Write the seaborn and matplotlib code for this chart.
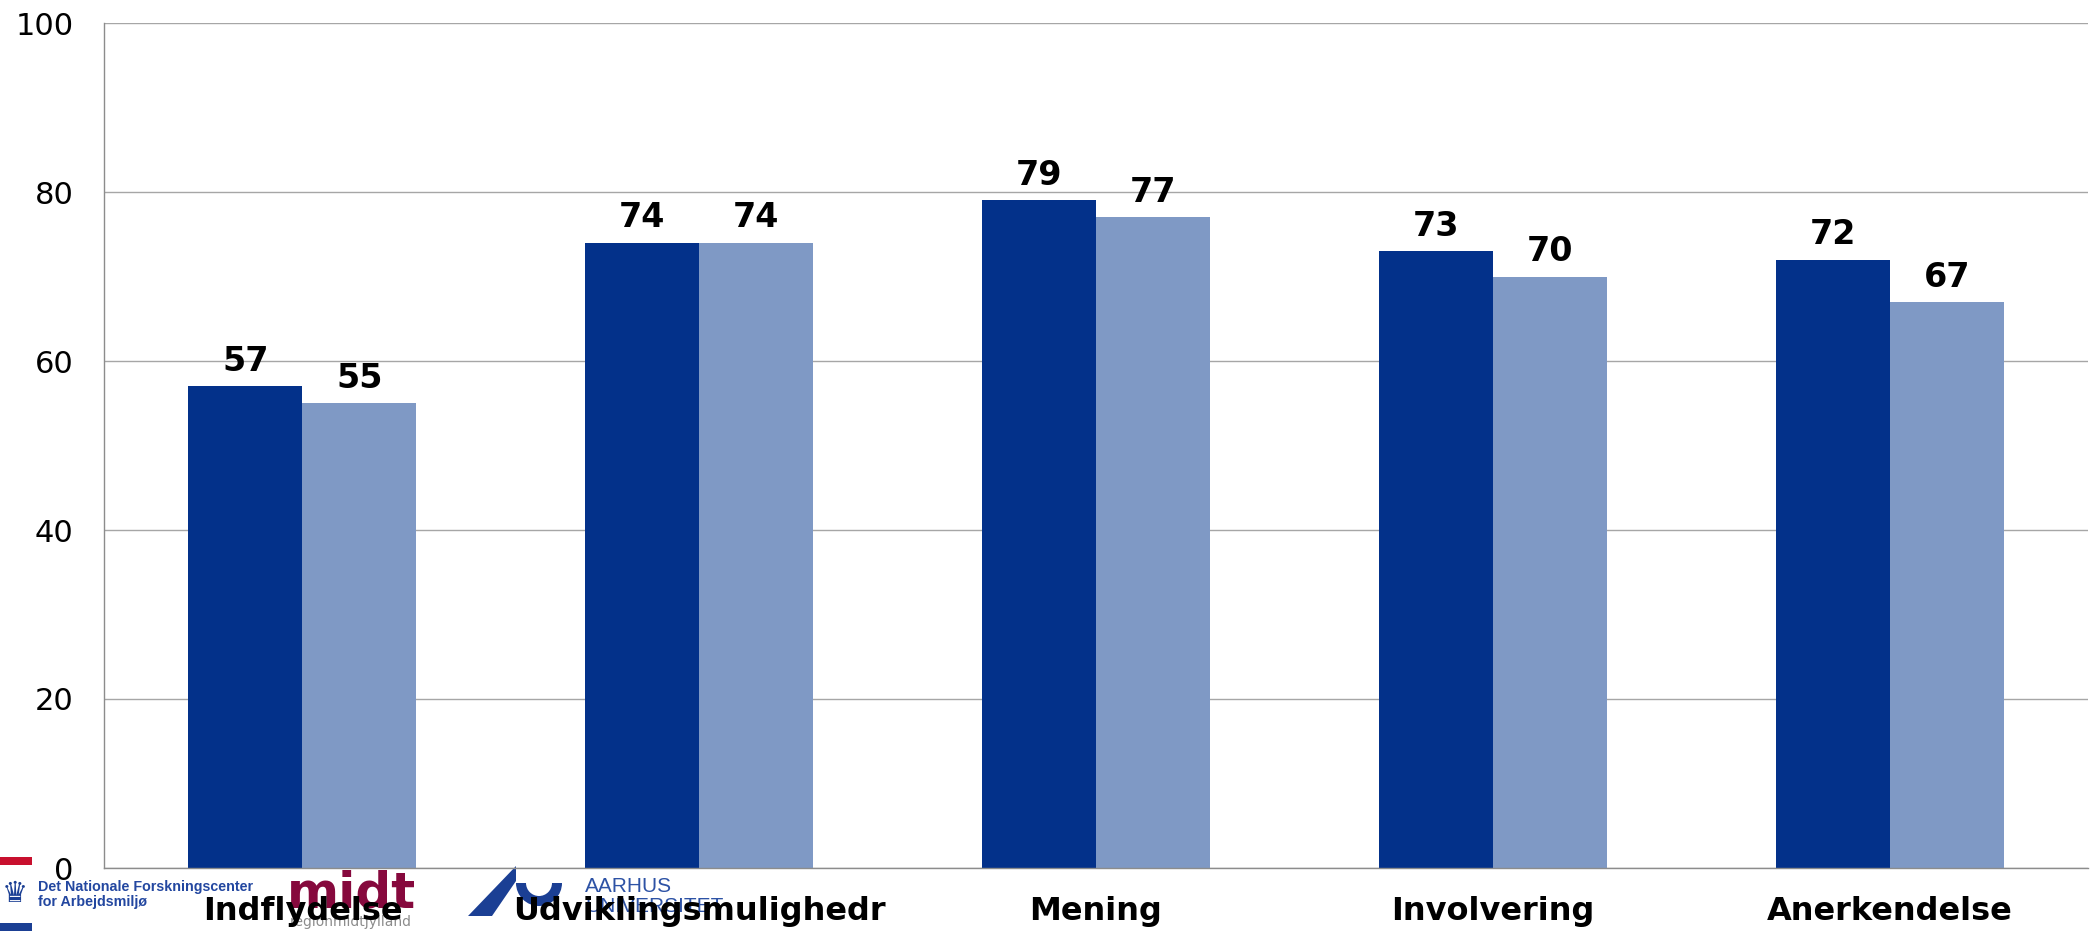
import pandas as pd
import matplotlib.pyplot as plt
import seaborn as sns
from matplotlib.patches import Rectangle, Polygon, Wedge

categories = ["Indflydelse", "Udviklingsmulighedr", "Mening", "Involvering", "Anerkendelse"]
series_names = ["Serie 1", "Serie 2"]
dark_values = [57, 74, 79, 73, 72]
light_values = [55, 74, 77, 70, 67]
y_ticks = [0, 20, 40, 60, 80, 100]
colors = ["#03318A", "#7F99C5"]

df = pd.DataFrame({
    "Kategori": categories * 2,
    "Serie": [series_names[0]] * len(categories) + [series_names[1]] * len(categories),
    "Score": dark_values + light_values,
})

sns.set_theme(style="white")
plt.rcParams['font.family'] = ['DejaVu Sans']
plt.rcParams['text.color'] = 'black'
plt.rcParams['xtick.color'] = 'black'
plt.rcParams['ytick.color'] = 'black'

W, H = 2093, 934
fig = plt.figure(figsize=(W / 100, H / 100), dpi=100)

# logos along the bottom edge, drawn in pixel coordinates under the chart
lax = fig.add_axes([0, 0, 1, 1], zorder=-1)
lax.set_xlim(0, W)
lax.set_ylim(H, 0)
lax.axis('off')
lax.add_patch(Rectangle((0, 857), 32, 8, color="#C8102E", lw=0))
lax.add_patch(Rectangle((0, 923), 32, 8, color="#1B3F94", lw=0))
lax.text(15, 894, "\u265b", color="#1B3F94", fontsize=21, ha='center', va='center')
lax.text(38, 880, "Det Nationale Forskningscenter\nfor Arbejdsmiljø", color="#2347A0",
         fontsize=10.3, fontweight='bold', family='Liberation Sans', va='top', linespacing=1.05)
lax.text(287, 907, "midt", color="#86093D", fontsize=36, fontweight='bold', va='baseline')
lax.text(290, 926, "regionmidtjylland", color="#8C8C8C", fontsize=10, va='baseline')
lax.add_patch(Polygon([(468, 916), (492, 916), (516, 881), (516, 866)], color="#1B3F94", lw=0))
lax.add_patch(Wedge((539, 883), 23, 0, 180, width=10, color="#1B3F94", lw=0))
lax.text(585, 892, "AARHUS", color="#2D52A5", fontsize=15, family='Liberation Sans', va='baseline')
lax.text(585, 912, "UNIVERSITET", color="#2D52A5", fontsize=15, family='Liberation Sans', va='baseline')

ax = fig.add_axes([104 / W, 1 - 868 / H, (2088 - 104) / W, (868 - 23) / H])
ax.patch.set_alpha(0)

sns.barplot(data=df, x="Kategori", y="Score", hue="Serie", palette=colors,
            width=0.575, saturation=1, errorbar=None, legend=False, linewidth=0, ax=ax)

for c in ax.containers:
    ax.bar_label(c, fmt='%d', padding=6, fontsize=24, fontweight='bold', color='black')

ax.set_ylim(0, 100)
ax.set_xlim(-0.5, 4.5)
ax.set_yticks(y_ticks)
ax.yaxis.grid(True, color='#A6A6A6', lw=1)
ax.set_axisbelow(True)
for side in ['top', 'right']:
    ax.spines[side].set_visible(False)
for side in ['left', 'bottom']:
    ax.spines[side].set_color('#8C8C8C')
    ax.spines[side].set_linewidth(1)

ax.tick_params(axis='y', length=0, labelsize=22, pad=22, labelcolor='black')
ax.tick_params(axis='x', length=0, labelsize=23, pad=20, labelcolor='black')
for lbl in ax.get_xticklabels():
    lbl.set_fontweight('bold')
ax.set_xlabel('')
ax.set_ylabel('')

fig.savefig('out.png', dpi=100)
